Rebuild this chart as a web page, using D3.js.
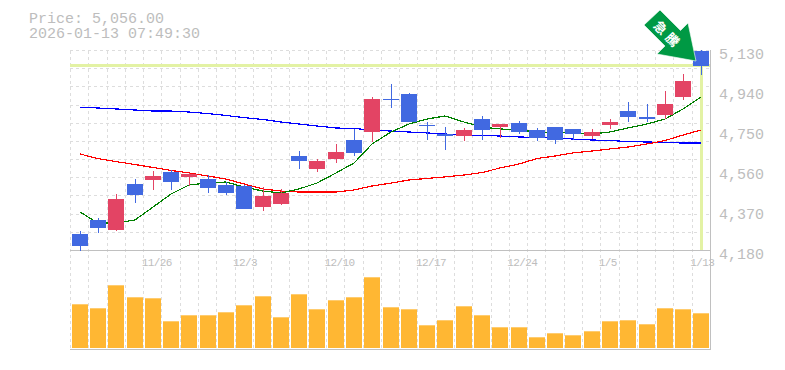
<!DOCTYPE html>
<html>
<head>
<meta charset="utf-8">
<script src="https://cdn.jsdelivr.net/npm/d3@7"></script>
<style>
  html, body { margin: 0; padding: 0; background: #fff; }
  svg { display: block; }
  text { font-family: "Liberation Mono", monospace; fill: #bdbdbd; }
</style>
</head>
<body>
<svg id="chart" width="785" height="370"></svg>
<script>
const dates = ["11/19","11/20","11/21","11/25","11/26","11/27","11/28","12/1","12/2","12/3","12/4","12/5","12/8","12/9","12/10","12/11","12/12","12/15","12/16","12/17","12/18","12/19","12/22","12/23","12/24","12/25","12/26","12/29","12/30","1/5","1/6","1/7","1/8","1/9","1/13"];
const openPrice = [4256,4322.5,4275,4493.5,4512.5,4550.5,4527,4517,4489,4484,4384,4398.5,4626.5,4565,4612,4702.5,4740.5,4897,4921,4774,4731,4721.5,4802,4764,4783,4750,4764,4755,4721.5,4774,4840,4812,4821,4907,5125];
const closePrice = [4199,4284.5,4422,4441,4531.5,4503,4541,4474.5,4451,4375,4436.5,4451,4603,4603,4645.5,4641,4897,4892.5,4788,4769,4721.5,4750,4750,4778.5,4740.5,4712,4702.5,4731,4740.5,4788,4812,4802,4873.5,4983,5056];
const highPrice = [4270,4332,4446,4517,4555,4560,4546,4536,4503,4489,4479,4470,4650,4612,4683.5,4755,4907,4968.5,4926,4788,4764,4759.5,4816.5,4778.5,4793,4759.5,4764,4755,4755,4802,4883,4873.5,4935,5016,5130];
const lowPrice = [4177,4261,4270,4403,4465,4465,4484,4451,4441,4375,4365,4394,4565,4550,4593,4626.5,4693,4854.5,4788,4702.5,4655,4698,4702.5,4712,4731,4698,4683.5,4702.5,4707,4755,4788,4788,4802,4892.5,5011];
const volume = [43.7,39.7,62.7,50.7,49.7,26.7,32.7,32.7,35.7,42.7,51.7,30.7,53.7,38.7,47.7,50.7,70.7,40.7,38.7,22.7,27.7,41.7,32.7,20.7,20.7,10.7,14.7,12.7,16.7,26.7,27.7,23.7,39.7,38.7,34.7];
const maShort = [4360.5,4308,4308,4322.5,4384,4446,4489,4498,4503,4479,4460,4451,4470,4498,4546,4593,4683.5,4740.5,4778.5,4802,4816.5,4788,4764,4755,4750,4740.5,4738,4736,4731,4740.5,4759.5,4778.5,4802,4850,4907];
const maMid = [4636,4614.5,4600,4586,4572,4558,4546,4531.5,4517,4493.5,4470,4460,4455.5,4455.5,4455.5,4465,4484,4498,4512.5,4520,4527,4536,4548,4569.5,4588.5,4614.5,4626.5,4641,4650,4660,4669,4683.5,4700,4726,4750];
const maLong = [4858,4854.5,4850,4845,4840,4840,4835.5,4828,4819,4809,4800,4788,4778.5,4769,4759.5,4757,4750,4745,4740.5,4736,4731,4726,4724,4721.5,4717,4714,4712,4707,4702.5,4700,4695,4693,4691,4688,4688];
const priceTicks = [5130,4940,4750,4560,4370,4180];
const dateTicks = ["11/26","12/3","12/10","12/17","12/24","1/5","1/13"];
const lastPrice = 5056;
const titleLines = ["Price: 5,056.00", "2026-01-13 07:49:30"];
const badgeText = "急騰";

const plotLeft = 70, plotRight = 710, plotTop = 50, priceBottom = 250, volBottom = 350;
const barWidth = 16;
const upColor = "#e34464", downColor = "#4169e1", volColor = "#ffb733", markColor = "#e3f2a4", frameColor = "#c0c0c0";

const svg = d3.select("#chart");

const xScale = d3.scaleBand().domain(dates).range([plotLeft, plotRight]);
const yScale = d3.scaleLinear().domain([4180, 5130]).range([priceBottom, plotTop]);
const volScale = d3.scaleLinear().domain([0, 100]).range([volBottom - 2, volBottom - 102]);

// left edge of the body in a slot, the source chart rounds them like this
const barX = d => Math.round(xScale(d) + 1.7);
const midX = d => barX(d) + barWidth / 2;

// dashed grid
const grid = svg.append("g")
    .attr("stroke", "#dddddd")
    .attr("stroke-dasharray", "3,3")
    .attr("shape-rendering", "crispEdges");
grid.selectAll(".v")
    .data(dates)
    .enter()
    .append("line")
    .attr("x1", d => Math.round(xScale(d)) + 0.5)
    .attr("x2", d => Math.round(xScale(d)) + 0.5)
    .attr("y1", plotTop + 1)
    .attr("y2", volBottom);
grid.selectAll(".h")
    .data(d3.range(12))
    .enter()
    .append("line")
    .attr("x1", plotLeft)
    .attr("x2", plotRight)
    .attr("y1", i => Math.round(plotTop + i * (priceBottom - plotTop) / 11) + 0.5)
    .attr("y2", i => Math.round(plotTop + i * (priceBottom - plotTop) / 11) + 0.5);

// frame
const frame = svg.append("g").attr("stroke", frameColor).attr("shape-rendering", "crispEdges");
frame.append("line").attr("x1", plotLeft).attr("x2", plotRight + 1).attr("y1", priceBottom + 0.5).attr("y2", priceBottom + 0.5);
frame.append("line").attr("x1", plotLeft).attr("x2", plotRight + 1).attr("y1", volBottom - 0.5).attr("y2", volBottom - 0.5);
frame.append("line").attr("x1", plotRight + 0.5).attr("x2", plotRight + 0.5).attr("y1", plotTop).attr("y2", volBottom);

// last price marker
const last = dates[dates.length - 1];
svg.append("line")
    .attr("x1", plotLeft).attr("x2", plotRight)
    .attr("y1", yScale(lastPrice)).attr("y2", yScale(lastPrice))
    .attr("stroke", markColor).attr("stroke-width", 3);
svg.append("line")
    .attr("x1", midX(last) + 0.5).attr("x2", midX(last) + 0.5)
    .attr("y1", yScale(lastPrice)).attr("y2", priceBottom)
    .attr("stroke", markColor).attr("stroke-width", 3);

// volume
svg.append("g")
    .selectAll("rect")
    .data(dates)
    .enter()
    .append("rect")
    .attr("x", d => barX(d))
    .attr("y", (d, i) => volScale(volume[i]))
    .attr("width", barWidth)
    .attr("height", (d, i) => volScale(0) - volScale(volume[i]))
    .attr("fill", volColor);

// moving averages
const lineGen = d3.line().x((d, i) => midX(dates[i])).y(d => yScale(d));
[[maLong, "#0000ff"], [maMid, "#ff0000"], [maShort, "#008000"]].forEach(([values, color]) => {
    svg.append("path")
        .attr("d", lineGen(values))
        .attr("fill", "none")
        .attr("stroke", color)
        .attr("stroke-width", 1.2)
        .attr("shape-rendering", "crispEdges");
});

// candles
const candles = svg.append("g")
    .attr("shape-rendering", "crispEdges")
    .selectAll("g")
    .data(dates)
    .enter()
    .append("g")
    .attr("fill", (d, i) => closePrice[i] >= openPrice[i] ? upColor : downColor);
candles.append("rect")
    .attr("x", d => midX(d))
    .attr("width", 1)
    .attr("y", (d, i) => yScale(highPrice[i]))
    .attr("height", (d, i) => yScale(lowPrice[i]) - yScale(highPrice[i]));
candles.append("rect")
    .attr("x", d => barX(d))
    .attr("width", barWidth)
    .attr("y", (d, i) => yScale(Math.max(openPrice[i], closePrice[i])))
    .attr("height", (d, i) => Math.max(1, Math.abs(yScale(openPrice[i]) - yScale(closePrice[i]))));

// axes
const yAxis = svg.append("g")
    .attr("transform", `translate(${plotRight + 9}, 0)`)
    .call(d3.axisRight(yScale).tickValues(priceTicks).tickSize(0).tickPadding(0).tickFormat(d3.format(",")));
yAxis.select(".domain").remove();
yAxis.selectAll("text")
    .attr("dy", "0")
    .attr("y", 8)
    .style("font-size", "15px")
    .style("font-family", '"Liberation Mono", monospace')
    .attr("fill", "#bdbdbd");

const xAxis = svg.append("g")
    .attr("transform", `translate(0, ${priceBottom})`)
    .call(d3.axisBottom(xScale).tickValues(dateTicks).tickSize(0).tickPadding(0));
xAxis.select(".domain").remove();
xAxis.selectAll("text")
    .attr("text-anchor", "start")
    .attr("x", -xScale.bandwidth() / 2 - 1.5)
    .attr("dy", "0")
    .attr("y", 16)
    .attr("letter-spacing", "-0.6")
    .style("font-size", "11px")
    .style("font-family", '"Liberation Mono", monospace')
    .attr("fill", "#bdbdbd");

// title
svg.selectAll(".title")
    .data(titleLines)
    .enter()
    .append("text")
    .attr("x", 29)
    .attr("y", (d, i) => 23 + i * 14.5)
    .style("font-size", "15px")
    .text(d => d);

// arrow badge
svg.append("polygon")
    .attr("points", "660,10 644,25 665,46 657,54 696,61 688,23 680.5,30.5")
    .attr("fill", "#009944")
    .attr("stroke", "#ffffff")
    .attr("stroke-width", 0.6);
svg.append("text")
    .attr("transform", "translate(668,35) rotate(45)")
    .attr("text-anchor", "middle")
    .attr("dy", "0.38em")
    .attr("letter-spacing", "4")
    .style("font-family", '"Noto Sans CJK JP"')
    .style("font-size", "13px")
    .style("font-weight", "700")
    .style("fill", "#ffffff")
    .text(badgeText);
</script>
</body>
</html>
